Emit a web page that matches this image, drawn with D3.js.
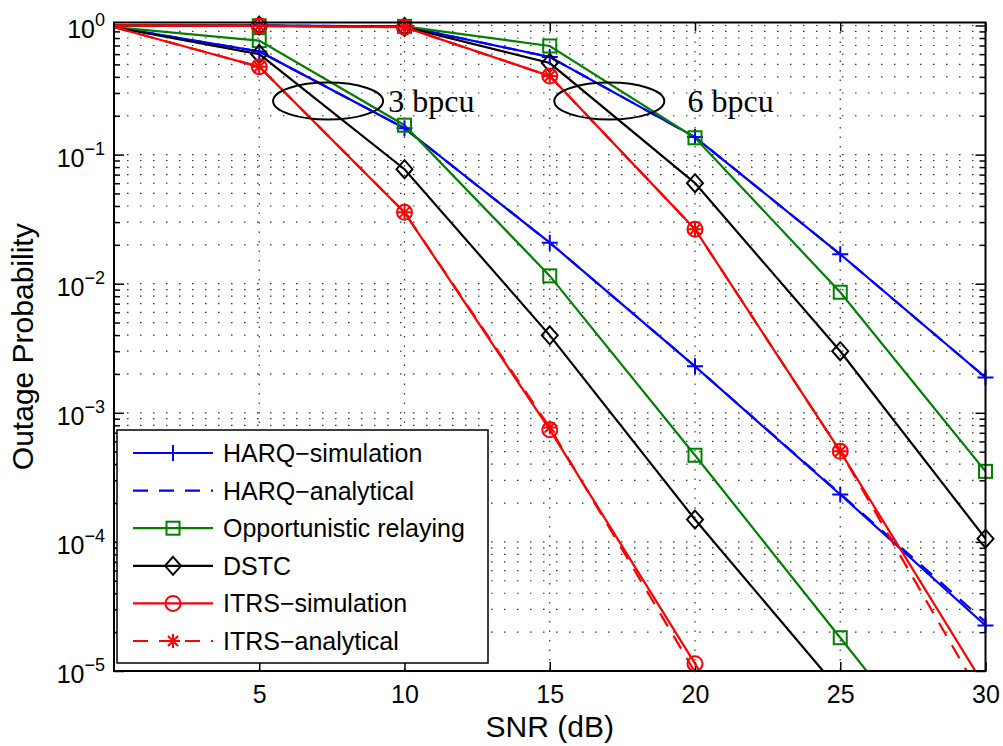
<!DOCTYPE html>
<html>
<head>
<meta charset="utf-8">
<script src="https://cdn.jsdelivr.net/npm/d3@7"></script>
<style>
body{margin:0;background:#fff}
text{font-family:"Liberation Sans",Arial,sans-serif}
</style>
</head>
<body>
<div class="graph"></div>
<script>
// DATA
const snr = [0, 5, 10, 15, 20, 25, 30]
const xTicks = [5, 10, 15, 20, 25, 30]
const yTickExp = [0, -1, -2, -3, -4, -5]

// 3 bpcu
const harqSim3  = [0.97, 0.63, 0.16, 0.0208, 0.00229, 2.33e-4, 2.25e-5]
const harqAna3  = [0.97, 0.63, 0.16, 0.0208, 0.00229, 2.36e-4, 2.4e-5]
const opp3      = [0.97, 0.763, 0.169, 0.0115, 4.69e-4, 1.81e-5, 6.9e-7]
const dstc3     = [0.97, 0.60, 0.0771, 0.00398, 1.49e-4, 6.97e-6, 3.3e-7]
const itrsSim3  = [0.97, 0.479, 0.0357, 7.4e-4, 1.14e-5, 1.4e-7, 1e-9]
const itrsAna3  = [0.97, 0.479, 0.0357, 7.7e-4, 9.8e-6, 1.3e-7, 1e-9]
// 6 bpcu
const harqSim6  = [1.0, 0.998, 0.985, 0.570, 0.1367, 0.0169, 1.88e-3]
const harqAna6  = [1.0, 0.998, 0.985, 0.570, 0.1367, 0.0169, 1.88e-3]
const opp6      = [1.0, 0.995, 0.985, 0.694, 0.135, 0.00859, 3.52e-4]
const dstc6     = [1.0, 0.999, 0.975, 0.512, 0.0601, 0.0030, 1.06e-4]
const itrsSim6  = [1.0, 0.992, 0.97, 0.406, 0.0264, 5.03e-4, 7.45e-6]
const itrsAna6  = [1.0, 0.992, 0.97, 0.406, 0.0264, 5.03e-4, 5.6e-6]

const legendLabels = ['HARQ\u2212simulation', 'HARQ\u2212analytical', 'Opportunistic relaying',
                      'DSTC', 'ITRS\u2212simulation', 'ITRS\u2212analytical']

// styles for each legend entry
const styles = [
  {color:'#0000ff', dash:null, marker:'plus'},
  {color:'#0000ff', dash:'15,11', marker:null},
  {color:'#008000', dash:null, marker:'square'},
  {color:'#000000', dash:null, marker:'diamond'},
  {color:'#ff0000', dash:null, marker:'circle'},
  {color:'#ff0000', dash:'15,11', marker:'star'}
]
const curves = [
  [harqSim3, harqSim6], [harqAna3, harqAna6], [opp3, opp6],
  [dstc3, dstc6], [itrsSim3, itrsSim6], [itrsAna3, itrsAna6]
]

const W = 1003, H = 746
const pLeft = 114, pRight = 985.5, pTop = 22.5, pBottom = 671

let svg = d3.select('.graph').append('svg')
    .attr('width', W).attr('height', H)

let x = d3.scaleLinear().domain([0, 30]).range([pLeft, pRight])
let y = d3.scaleLog().domain([1e-5, 1.055]).range([pBottom, pTop])

svg.append('defs').append('clipPath').attr('id', 'clip')
  .append('rect').attr('x', pLeft).attr('y', pTop)
  .attr('width', pRight - pLeft).attr('height', pBottom - pTop)

// grid
let minor = []
for (let e = -5; e < 0; e++) for (let k = 2; k <= 9; k++) minor.push(k * Math.pow(10, e))
let majorY = yTickExp.map(e => Math.pow(10, e))
let grid = svg.append('g')
grid.selectAll('.hg').data(minor.concat(majorY)).enter().append('line')
  .attr('x1', pLeft).attr('x2', pRight)
  .attr('y1', d => y(d)).attr('y2', d => y(d))
  .attr('stroke', '#333').attr('stroke-width', 1.2).attr('stroke-dasharray', '1.5,11.5')
grid.selectAll('.vg').data(xTicks.slice(0, -1)).enter().append('line')
  .attr('x1', d => x(d)).attr('x2', d => x(d))
  .attr('y1', pTop).attr('y2', pBottom)
  .attr('stroke', '#333').attr('stroke-width', 1.2).attr('stroke-dasharray', '1.5,8')

// ticks (inward, both sides)
let axes = svg.append('g')
axes.append('g').attr('transform', `translate(0,${pBottom})`)
  .call(d3.axisBottom(x).tickValues(xTicks).tickSize(-9).tickFormat(d3.format('d')).tickPadding(14))
axes.append('g').attr('transform', `translate(0,${pTop})`)
  .call(d3.axisTop(x).tickValues(xTicks).tickSize(-9).tickFormat(''))
axes.append('g').attr('transform', `translate(${pLeft},0)`)
  .call(d3.axisLeft(y).tickValues(majorY).tickSize(-10).tickFormat(''))
axes.append('g').attr('transform', `translate(${pLeft},0)`)
  .call(d3.axisLeft(y).tickValues(minor).tickSize(-6).tickFormat(''))
axes.append('g').attr('transform', `translate(${pRight},0)`)
  .call(d3.axisRight(y).tickValues(majorY).tickSize(-10).tickFormat(''))
axes.append('g').attr('transform', `translate(${pRight},0)`)
  .call(d3.axisRight(y).tickValues(minor).tickSize(-6).tickFormat(''))
axes.selectAll('.domain').remove()
axes.selectAll('.tick line').attr('stroke', '#000').attr('stroke-width', 1.5)
axes.selectAll('.tick text').attr('font-size', 25).attr('fill', '#000')
  .style('font-family', '"Liberation Sans",Arial,sans-serif')

// y tick labels 10^e
let yl = svg.append('g')
yTickExp.forEach(function(e){
  let t = yl.append('text').attr('x', 105).attr('y', y(Math.pow(10, e)) + 12)
    .attr('text-anchor', 'end').attr('font-size', 25)
  t.append('tspan').text('10')
  t.append('tspan').attr('dy', -12).attr('font-size', 18).text(e === 0 ? '0' : '\u2212' + Math.abs(e))
})

// lines
let line = d3.line().x((d, i) => x(snr[i])).y(d => y(d))
let plot = svg.append('g').attr('clip-path', 'url(#clip)')
curves.forEach(function(pair, si){
  pair.forEach(function(vals){
    plot.append('path').datum(vals).attr('d', line)
      .attr('fill', 'none').attr('stroke', styles[si].color).attr('stroke-width', 2.2)
      .attr('stroke-dasharray', styles[si].dash)
  })
})

function drawMarker(g, type, color, cx, cy){
  let m = g.append('g').attr('transform', `translate(${cx},${cy})`)
    .attr('fill', 'none').attr('stroke', color).attr('stroke-width', 2)
  if (type === 'plus') m.append('path').attr('d', 'M-8,0H8M0,-8V8')
  if (type === 'square') m.append('rect').attr('x', -6.5).attr('y', -6.5).attr('width', 13).attr('height', 13)
  if (type === 'diamond') m.append('path').attr('d', 'M0,-9L8,0L0,9L-8,0Z')
  if (type === 'circle') m.append('circle').attr('r', 7.5)
  if (type === 'star') m.append('path').attr('d', 'M-7,0H7M0,-7V7M-5,-5L5,5M-5,5L5,-5')
}

// markers (none on the SNR = 0 starting point)
let marks = svg.append('g')
curves.forEach(function(pair, si){
  if (!styles[si].marker) return
  pair.forEach(function(vals){
    vals.forEach(function(v, i){
      if (v < 1e-5 || snr[i] === 0) return
      drawMarker(marks, styles[si].marker, styles[si].color, x(snr[i]), y(v))
    })
  })
})

// box
svg.append('rect').attr('x', pLeft).attr('y', pTop)
  .attr('width', pRight - pLeft).attr('height', pBottom - pTop)
  .attr('fill', 'none').attr('stroke', '#000').attr('stroke-width', 2)

// annotations
const rateLabels = ['3 bpcu', '6 bpcu']
const ellipseX = [7.37, 17.05]
const ellipseY = 0.26
const labelX = [9.44, 19.74]
const labelY = 0.2136
rateLabels.forEach(function(t, i){
  svg.append('ellipse').attr('cx', x(ellipseX[i])).attr('cy', y(ellipseY))
    .attr('rx', 55).attr('ry', 18.5)
    .attr('fill', 'none').attr('stroke', '#000').attr('stroke-width', 2)
  svg.append('text').attr('x', x(labelX[i])).attr('y', y(labelY))
    .attr('font-size', 32).style('font-family', '"Liberation Serif","Times New Roman",serif')
    .text(t)
})

// axis labels
svg.append('text').attr('x', (pLeft + pRight) / 2).attr('y', 737)
  .attr('text-anchor', 'middle').attr('font-size', 30).text('SNR (dB)')
svg.append('text').attr('transform', `translate(33,${(pTop + pBottom) / 2}) rotate(-90)`)
  .attr('text-anchor', 'middle').attr('font-size', 30).text('Outage Probability')

// legend
let lg = svg.append('g')
lg.append('rect').attr('x', 117).attr('y', 430).attr('width', 371).attr('height', 233)
  .attr('fill', '#fff').attr('stroke', '#000').attr('stroke-width', 1.5)
legendLabels.forEach(function(lab, i){
  let ry = 453 + i * 37.6
  lg.append('line').attr('x1', 133).attr('x2', 213).attr('y1', ry).attr('y2', ry)
    .attr('stroke', styles[i].color).attr('stroke-width', 2.2)
    .attr('stroke-dasharray', styles[i].dash)
  if (styles[i].marker) drawMarker(lg, styles[i].marker, styles[i].color, 173, ry)
  lg.append('text').attr('x', 223).attr('y', ry + 9).attr('font-size', 25).text(lab)
})
</script>
</body>
</html>
